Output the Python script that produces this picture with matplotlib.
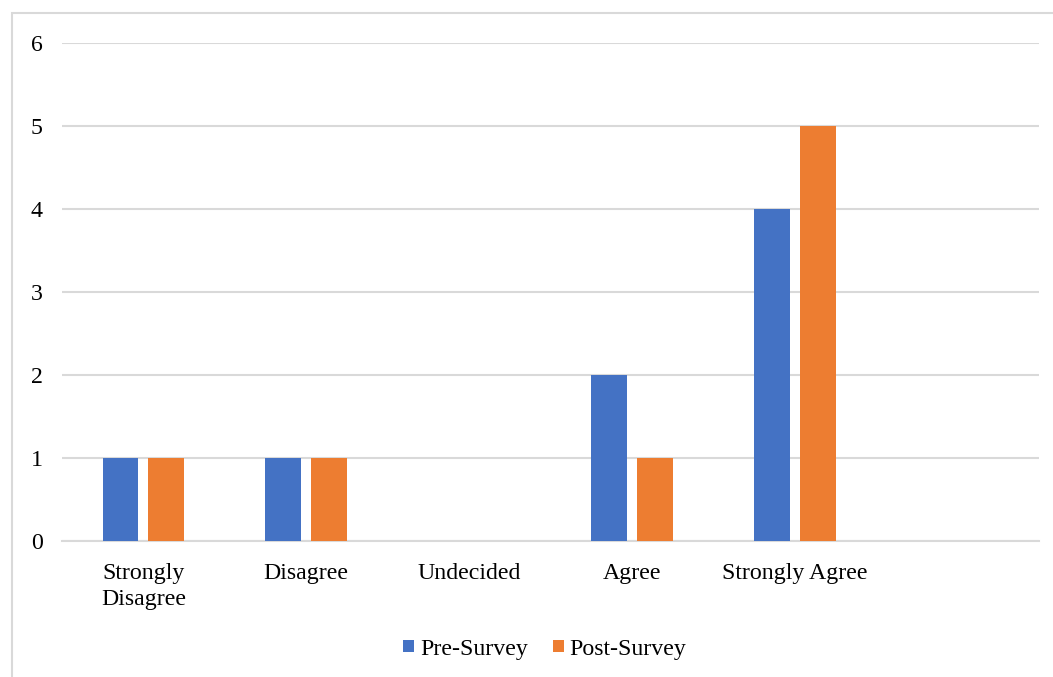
import matplotlib
matplotlib.use("Agg")
import matplotlib.pyplot as plt
import numpy as np
from matplotlib.patches import Rectangle

categories = ["Strongly\nDisagree", "Disagree", "Undecided", "Agree", "Strongly Agree", ""]
pre_survey = [1, 1, 0, 2, 4, 0]
post_survey = [1, 1, 0, 1, 5, 0]
series_names = ["Pre-Survey", "Post-Survey"]
colors = ["#4472C4", "#ED7D31"]

plt.rcParams['font.family'] = ['Liberation Serif', 'DejaVu Serif']

W, H = 1053, 677
fig = plt.figure(figsize=(W/100, H/100), dpi=100)
ax = fig.add_axes([62/W, 1-541/H, (1039-62)/W, (541-43)/H])

x = np.arange(len(categories))
bw = 0.22
off = 0.141
ax.bar(x - off, pre_survey, bw, color=colors[0], label=series_names[0], zorder=3)
ax.bar(x + off, post_survey, bw, color=colors[1], label=series_names[1], zorder=3)

FS = 17.2
ax.set_xlim(-0.5, len(categories) - 0.5)
ax.set_ylim(0, 6)
ax.set_yticks(range(0, 7))
ax.set_xticks(x)
ax.set_xticklabels(categories, fontsize=FS, linespacing=1.35)
ax.tick_params(axis='y', length=0, pad=14, labelsize=FS)
ax.tick_params(axis='x', length=0, pad=15.5)
ax.grid(axis='y', color='#d9d9d9', linewidth=1.5, zorder=0)
for s in ['top', 'right', 'left']:
    ax.spines[s].set_visible(False)
ax.spines['bottom'].set_color('#d9d9d9')
ax.spines['bottom'].set_linewidth(1.5)

leg = fig.legend(loc='center', bbox_to_anchor=(545/W, 1-649/H), ncol=2, frameon=False,
                 fontsize=FS, handlelength=0.45, handleheight=0.45, handletextpad=0.25,
                 columnspacing=1.04)

fig.patches.append(Rectangle((12/W, -0.1), 1.2, 1.1 - 13/H, transform=fig.transFigure,
                             fill=False, edgecolor='#d9d9d9', linewidth=1.5))

fig.savefig("out.png", dpi=100)
